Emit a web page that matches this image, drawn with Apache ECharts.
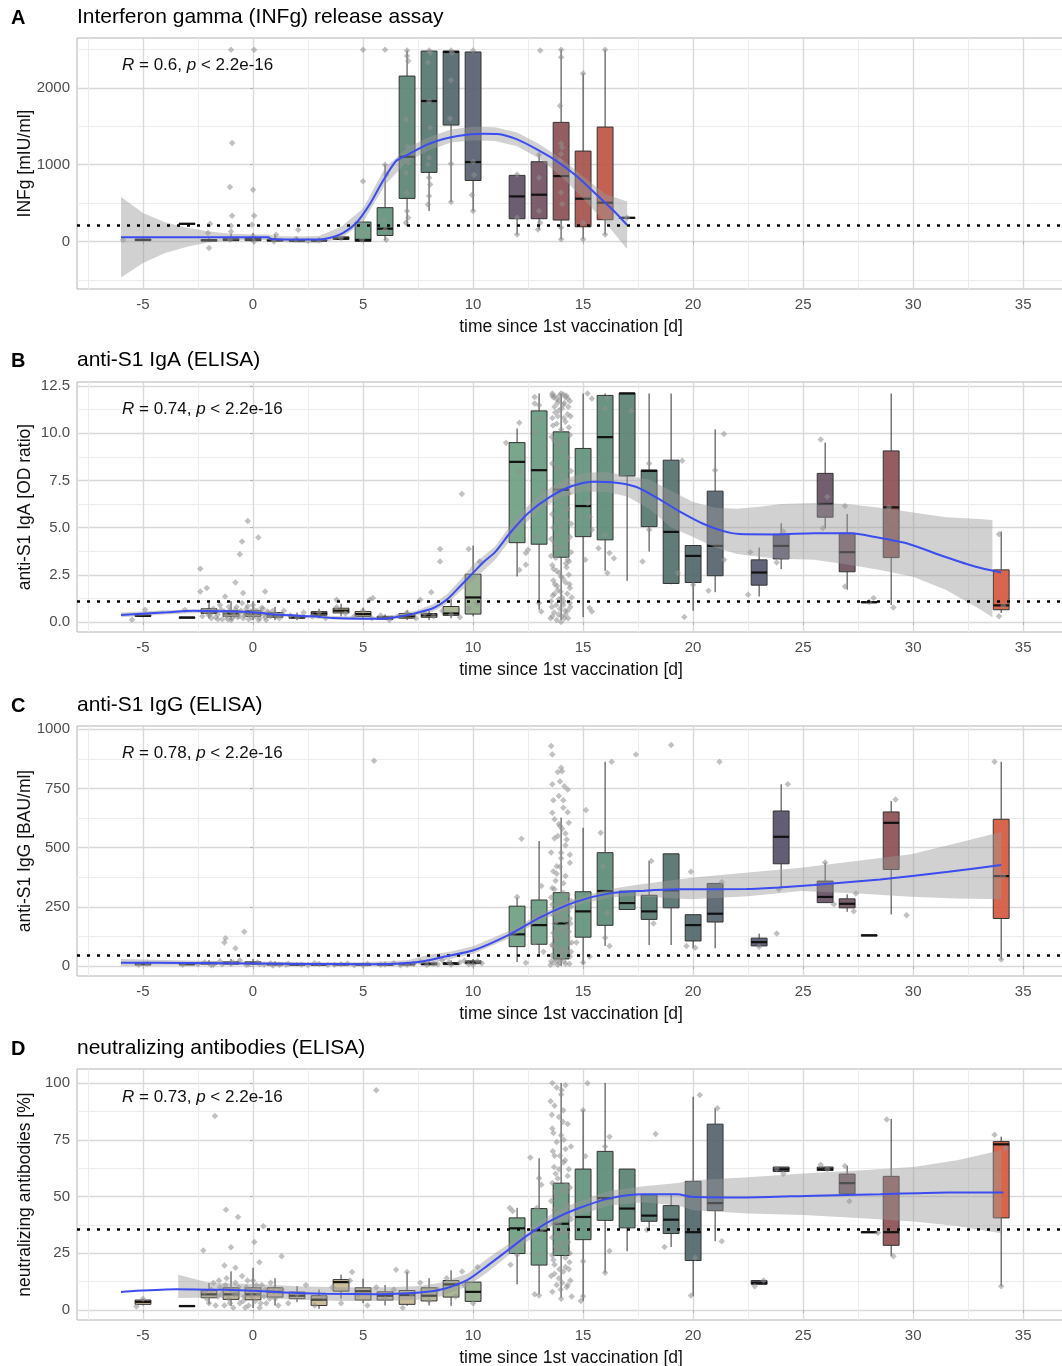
<!DOCTYPE html>
<html lang="en">
<head>
<meta charset="UTF-8">
<title>Immune response after vaccination</title>
<script src="https://cdn.jsdelivr.net/npm/echarts@6/dist/echarts.min.js"></script>
<style>
    * { margin: 0; padding: 0; }
    html, body { width: 100%; height: 100%; overflow: hidden; background: #fff; }
    .container { width: 1062px; height: 1366px; }
</style>
</head>
<body>
<div class="container"></div>
<script>
// ---- texts ----
const letters = ['A', 'B', 'C', 'D'];
const titles = ['Interferon gamma (INFg) release assay', 'anti-S1 IgA (ELISA)', 'anti-S1 IgG (ELISA)', 'neutralizing antibodies (ELISA)'];
const yNames = ['INFg [mIU/ml]', 'anti-S1 IgA [OD ratio]', 'anti-S1 IgG [BAU/ml]', 'neutralizing antibodies [%]'];
const rValues = ['0.6', '0.74', '0.78', '0.73'];
const xName = 'time since 1st vaccination [d]';

// ---- ticks ----
const xTicks = [-7.5, -5, -2.5, 0, 2.5, 5, 7.5, 10, 12.5, 15, 17.5, 20, 22.5, 25, 27.5, 30, 32.5, 35];
const xMajor = [-5, 0, 5, 10, 15, 20, 25, 30, 35];
const yTicksA = [-500, 0, 500, 1000, 1500, 2000, 2500];
const yMajorA = [0, 1000, 2000];
const yTicksB = [0, 1.25, 2.5, 3.75, 5, 6.25, 7.5, 8.75, 10, 11.25, 12.5];
const yMajorB = [0, 2.5, 5, 7.5, 10, 12.5];
const yTicksC = [0, 125, 250, 375, 500, 625, 750, 875, 1000];
const yMajorC = [0, 250, 500, 750, 1000];
const yTicksD = [0, 12.5, 25, 37.5, 50, 62.5, 75, 87.5, 100];
const yMajorD = [0, 25, 50, 75, 100];

// ---- cut-off lines ----
const cutoffs = [210, 1.1, 44, 35.5];

// ---- boxes: [day, min, q1, median, q3, max] ----
const boxesA = [
    [-5, 0, 10, 20, 30, 40], [-3, 220, 225, 230, 235, 240], [-2, 0, 5, 15, 25, 60],
    [-1, 0, 10, 20, 40, 100], [0, 0, 10, 30, 50, 110], [1, 0, 5, 15, 30, 90],
    [2, 0, 5, 10, 25, 60], [3, 0, 5, 10, 20, 40], [4, 20, 25, 40, 60, 60],
    [5, 0, 0, 20, 253, 253], [6, 13, 78, 166, 440, 1004], [7, 200, 561, 1104, 2156, 2490],
    [8, 396, 900, 1830, 2482, 2490], [9, 513, 1517, 2470, 2482, 2490], [10, 396, 795, 1035, 2470, 2480],
    [12, 91, 296, 587, 861, 870], [13, 157, 296, 609, 1039, 1134], [14, 26, 279, 852, 1552, 2504],
    [15, 30, 191, 557, 1178, 2190], [16, 91, 283, 505, 1491, 2500], [17, 300, 305, 309, 312, 315]
];
const boxesB = [
    [-5, 0.25, 0.3, 0.33, 0.37, 0.4], [-3, 0.22, 0.23, 0.24, 0.25, 0.26], [-2, 0.2, 0.45, 0.55, 0.7, 1.0],
    [-1, 0.1, 0.3, 0.45, 0.6, 1.1], [0, 0.1, 0.3, 0.45, 0.6, 1.1], [1, 0.1, 0.25, 0.35, 0.5, 0.8],
    [2, 0.1, 0.2, 0.25, 0.35, 0.5], [3, 0.2, 0.35, 0.45, 0.55, 0.7], [4, 0.3, 0.48, 0.6, 0.73, 0.97],
    [5, 0.15, 0.3, 0.42, 0.55, 0.75], [6, 0.1, 0.15, 0.2, 0.3, 0.4], [7, 0.1, 0.2, 0.3, 0.45, 0.6],
    [8, 0.1, 0.25, 0.35, 0.45, 0.6], [9, 0.2, 0.35, 0.45, 0.82, 1.2], [10, 0.3, 0.42, 1.3, 2.53, 4.05],
    [12, 2.41, 4.2, 8.48, 9.5, 10.25], [13, 0.65, 4.12, 8.04, 11.18, 12.1], [14, 0.1, 3.43, 7.0, 10.07, 12.1],
    [15, 0.26, 4.52, 6.14, 9.19, 12.1], [16, 2.71, 4.35, 9.79, 12.0, 12.1], [17, 2.18, 7.73, 12.1, 12.13, 12.13],
    [18, 3.73, 5.05, 8.0, 8.05, 12.1], [19, 2.0, 2.04, 4.77, 8.57, 12.1], [20, 0.6, 2.09, 3.5, 4.05, 4.05],
    [21, 1.58, 2.45, 4.03, 6.93, 10.2], [23, 1.35, 1.95, 2.62, 3.29, 3.94], [24, 2.8, 3.34, 4.03, 4.65, 5.23],
    [26, 4.97, 5.55, 6.25, 7.87, 9.5], [27, 1.71, 2.66, 3.7, 4.7, 5.72], [28, 1.0, 1.03, 1.05, 1.07, 1.1],
    [29, 0.9, 3.41, 6.07, 9.06, 12.1], [34, 0.48, 0.65, 0.88, 2.76, 4.79]
];
const boxesC = [
    [-5, 5, 6, 8, 10, 12], [-3, 5, 6, 8, 10, 12], [-2, 3, 8, 12, 16, 25], [-1, 3, 8, 12, 18, 30],
    [0, 3, 8, 12, 18, 30], [1, 2, 5, 8, 12, 20], [2, 2, 4, 7, 10, 15], [3, 2, 4, 6, 9, 14],
    [4, 2, 4, 7, 10, 15], [5, 2, 4, 6, 9, 14], [6, 2, 4, 7, 10, 16], [7, 2, 5, 8, 12, 18],
    [8, 2, 5, 9, 13, 20], [9, 3, 6, 10, 15, 24], [10, 5, 10, 15, 22, 30],
    [12, 17, 82, 134, 253, 289], [13, 42, 92, 173, 279, 528], [14, 0, 30, 180, 310, 627],
    [15, 7, 122, 231, 314, 584], [16, 85, 172, 317, 479, 863], [17, 239, 239, 266, 317, 317],
    [18, 89, 197, 231, 299, 444], [19, 89, 246, 320, 474, 474], [20, 75, 106, 173, 217, 217],
    [21, 75, 186, 221, 349, 349], [23, 80, 85, 101, 118, 137], [24, 331, 432, 546, 655, 768],
    [26, 268, 268, 292, 359, 437], [27, 229, 246, 263, 284, 303], [28, 128, 129, 130, 131, 132],
    [29, 218, 408, 605, 651, 697], [34, 28, 201, 380, 620, 863]
];
const boxesD = [
    [-5, 2.0, 2.5, 3.6, 4.4, 5], [-3, 1.5, 1.6, 1.76, 1.9, 2.0], [-2, 2.5, 5.4, 6.9, 8.6, 12],
    [-1, 1.8, 4.7, 6.9, 9.8, 17], [0, 0.9, 4.5, 6.9, 9.8, 18.6], [1, 2, 5.7, 8.0, 9.8, 14],
    [2, 3.5, 5, 6.3, 7.9, 10.5], [3, 0.5, 2, 4.6, 6.3, 9], [4, 5, 8.3, 12.3, 13.4, 15.6],
    [5, 3, 4.4, 8.3, 9.8, 13.8], [6, 2, 4.4, 6.3, 8, 11], [7, 1.8, 2.5, 6.6, 8.6, 16.8],
    [8, 2, 4, 6.3, 9.8, 14], [9, 1.8, 5.7, 11.3, 13, 17.5], [10, 3.8, 3.8, 8.0, 12.3, 12.3],
    [12, 11.3, 24.9, 36.0, 40.6, 45], [13, 6.9, 19.8, 35, 44.7, 66.9], [14, 5.4, 24, 38, 55.9, 100],
    [15, 4, 31, 41, 62.1, 88], [16, 16.4, 39.5, 49.3, 69.9, 100], [17, 25.9, 36.2, 44.7, 62.1, 62.1],
    [18, 35, 39.1, 41.6, 50.8, 50.8], [19, 27.8, 33.7, 39.8, 46, 50.8], [20, 6.1, 21.8, 34.3, 56.7, 94],
    [21, 30.3, 43.8, 47.1, 81.9, 88.9], [23, 11, 11.3, 12, 13, 13.2], [24, 61, 61, 62, 63, 63],
    [26, 61.5, 61.5, 62, 63, 63], [27, 51.2, 51.2, 55.9, 59.9, 63.5], [28, 34, 34.1, 34.3, 34.5, 34.6],
    [29, 23.7, 28.5, 34.3, 58.9, 84.2], [34, 10.5, 40.6, 73, 74.2, 76.4]
];

// ---- single measurements [day, value] ----
const pointsA = [
    [-5.9, 20], [-1.0, 2500], [0.05, 2500], [-0.95, 1283], [-1.05, 709], [-0.95, 335], [0.0, 674], [0.05, 335],
    [-0.05, 217], [-1.0, 206], [-1.95, 231], [-2.0, -87], [-2.05, 110], [-1.0, 130], [-1.05, 22], [0.0, 65],
    [0.05, 0], [1.05, 87], [0.95, 0], [2.05, 152], [1.95, 31], [3.0, 20], [2.5, 10],
    [5.0, 2500], [6.0, 2500], [5.0, 783], [6.0, 1000], [6.05, 870], [5.95, 283], [6.0, 152], [6.05, 22],
    [5.0, 113], [4.95, 22], [4.0, 44],
    [7, 2490], [7, 2417], [7.05, 2352], [6.95, 1591], [7, 1244], [7.05, 1026], [6.95, 896], [7, 635], [7, 396],
    [7.05, 309], [6.95, 244],
    [8, 2490], [8.05, 2460], [7.95, 2331], [8, 1829], [8.05, 1482], [8, 1091], [7.95, 1004], [8, 830],
    [8.05, 743], [8, 591], [7.95, 482],
    [9, 2490], [9.05, 2460], [9, 2100], [8.95, 1604], [9, 1013], [9, 513],
    [10, 2490], [10, 1040], [10.05, 865], [9.95, 604], [10, 396],
    [12, 874], [12, 309], [12, 91],
    [13.05, 2490], [13, 1134], [13, 830], [13, 396], [13.05, 244], [12.95, 157],
    [14, 2500], [14, 2400], [13.95, 1770], [14, 1278], [14.05, 1226], [14, 1139], [13.95, 1052], [14, 639],
    [14.05, 487], [14, 183], [14, 30],
    [15, 2190], [15, 244], [15, 30], [16, 2500], [16, 91], [17, 309]
];
const pointsB = [
    [-5.5, 0.12], [-4.9, 0.65], [-3.1, 0.65], [-2.4, 2.82], [-2.4, 1.62], [-2.1, 1.8], [-0.8, 2.09], [-0.6, 3.59],
    [-0.5, 4.26], [-0.24, 5.35], [0.24, 4.47], [-0.45, 1.53], [0.55, 1.62], [-1.27, 1.35],
    [-2.3, 0.3], [-2.1, 0.5], [-1.9, 0.2], [-1.8, 0.7], [-1.6, 0.4], [-1.5, 0.9], [-1.4, 0.15], [-1.3, 0.55],
    [-1.2, 0.3], [-1.1, 0.8], [-1.0, 0.1], [-0.9, 0.45], [-0.8, 0.65], [-0.7, 0.25], [-0.6, 0.5], [-0.5, 1.0],
    [-0.4, 0.35], [-0.3, 0.7], [-0.2, 0.15], [-0.1, 0.55], [0.0, 0.9], [0.1, 0.3], [0.2, 0.6], [0.3, 0.2],
    [0.4, 0.75], [0.5, 0.4], [0.6, 0.1], [0.7, 0.5], [0.8, 0.3], [1.0, 0.45], [1.2, 0.2], [1.4, 0.6],
    [1.7, 0.35], [2.0, 0.25], [2.3, 0.5], [2.7, 0.3], [3.0, 0.5], [3.3, 0.2], [3.8, 0.8], [4.2, 0.45],
    [4.6, 0.3], [5.0, 0.6], [5.4, 0.2], [5.8, 0.35], [6.2, 0.1], [6.6, 0.3], [7.0, 0.5], [7.4, 0.2],
    [7.8, 0.45], [8.2, 0.3], [8.6, 0.6], [9.0, 0.4], [9.4, 0.25], [9.8, 0.7],
    [-1.9, 0.45], [-1.7, 0.25], [-1.45, 0.65], [-1.25, 0.4], [-1.05, 0.6], [-0.95, 0.2], [-0.85, 0.35], [-0.75, 0.8],
    [-0.65, 0.3], [-0.55, 0.6], [-0.45, 0.2], [-0.35, 0.45], [-0.25, 0.85], [-0.15, 0.4], [-0.05, 0.25], [0.05, 0.65],
    [0.15, 0.45], [0.25, 0.1], [0.35, 0.5], [0.45, 0.7], [0.55, 0.25], [0.65, 0.55], [0.75, 0.35], [0.9, 0.6],
    [1.1, 0.3], [1.3, 0.4], [-2.2, 0.6], [-2.0, 0.35], [-1.6, 0.15], [-1.15, 0.15],
    [3.8, 1.18], [5.3, 1.18], [5.45, 1.27], [7.6, 1.18], [8.1, 1.58], [8.5, 3.86], [8.5, 3.2], [9.49, 6.78],
    [9.8, 3.86], [10.2, 1.0], [10.3, 3.2],
    [12.1, 10.55], [12.1, 7.96], [11.5, 9.49], [12.1, 2.76], [12.4, 3.03], [12.4, 3.65], [12.5, 3.82],
    [12.8, 11.92], [12.8, 11.57], [13.0, 11.48], [12.8, 10.07], [13.0, 10.78], [13.0, 1.0], [13.1, 0.56],
    [12.9, 4.52], [13.2, 6.99],
    [13.6, 12.0], [13.8, 11.8], [14.0, 12.1], [14.2, 11.9], [14.4, 11.7], [13.7, 11.4], [13.9, 11.2], [14.1, 11.5],
    [14.3, 11.0], [13.6, 10.8], [13.8, 10.5], [14.0, 10.2], [14.2, 10.6], [14.4, 9.9], [13.7, 9.6], [13.9, 9.3],
    [14.1, 9.0], [14.3, 8.7], [13.6, 8.4], [13.8, 8.1], [14.0, 7.8], [14.2, 7.5], [14.4, 7.2], [13.7, 6.9],
    [13.9, 6.6], [14.1, 6.3], [14.3, 6.0], [13.6, 5.7], [13.8, 5.4], [14.0, 5.1], [14.2, 4.8], [14.4, 4.5],
    [13.7, 4.2], [13.9, 3.9], [14.1, 3.6], [14.3, 3.3], [13.6, 3.0], [13.8, 2.7], [14.0, 2.4], [14.2, 2.1],
    [14.4, 1.8], [13.7, 1.5], [13.9, 1.2], [14.1, 0.9], [14.3, 0.6], [13.6, 0.3], [13.8, 0.1], [14.0, 0.0],
    [14.2, 0.4], [14.4, 1.0], [13.65, 2.2], [13.85, 1.7], [14.05, 1.3], [14.25, 2.9], [13.75, 3.4], [14.15, 0.2],
    [13.95, 0.7], [14.35, 2.5], [13.55, 1.1], [14.45, 3.7], [13.65, 11.9], [14.15, 11.6], [13.85, 10.9], [14.35, 10.3],
    [13.52, 0.2], [13.58, 0.8], [13.62, 1.4], [13.68, 0.5], [13.72, 2.0], [13.78, 0.9], [13.82, 1.9], [13.88, 0.4],
    [13.92, 2.6], [13.98, 1.6], [14.02, 0.3], [14.08, 2.3], [14.12, 1.1], [14.18, 0.6], [14.22, 3.1], [14.28, 1.5],
    [14.32, 0.2], [14.38, 2.0], [14.42, 0.8], [14.48, 1.3], [13.55, 4.4], [13.65, 5.0], [13.75, 6.1], [13.85, 7.0],
    [13.95, 8.2], [14.05, 9.5], [14.15, 7.3], [14.25, 5.4], [14.35, 6.8], [14.45, 8.0], [13.57, 9.8], [13.63, 10.4],
    [13.73, 11.1], [13.83, 11.6], [13.93, 12.0], [14.03, 11.3], [14.13, 10.8], [14.23, 12.0], [14.33, 11.4],
    [14.43, 10.9], [13.6, 12.1], [13.7, 11.95], [13.9, 11.75], [14.1, 12.05], [14.3, 11.85], [13.54, 3.5],
    [13.66, 2.8], [13.74, 3.9], [13.86, 4.6], [13.96, 5.6], [14.06, 4.0], [14.16, 5.9], [14.26, 4.3], [14.36, 3.2],
    [14.46, 5.2],
    [15.2, 12.1], [15.4, 11.83], [15.3, 5.58], [15.4, 4.88], [15.3, 0.74], [15.4, 0.56], [15.1, 3.29], [15.2, 6.29],
    [16.1, 11.83], [16.0, 11.3], [16.0, 4.61], [16.2, 3.65], [16.4, 3.38], [16.1, 2.59], [15.7, 3.91],
    [17.2, 11.18], [18.0, 8.4], [18.0, 4.88], [17.7, 3.2], [19.3, 2.59], [19.5, 8.54], [19.6, 0.26], [20.0, 1.97],
    [21.0, 8.04], [21.4, 9.95], [20.7, 1.65], [21.4, 3.29], [22.6, 3.7], [22.5, 1.44], [23.8, 3.15], [24.1, 4.79],
    [25.8, 9.67], [26.1, 6.63], [25.9, 4.96], [26.9, 6.14], [26.9, 1.88], [28.2, 1.27], [28.0, 1.06],
    [29.1, 0.77], [28.9, 6.07], [33.9, 4.65], [33.9, 0.3], [34.1, 0.88]
];
const pointsC = [
    [-5.2, 5], [-4.8, 10], [-3.2, 6], [-2.5, 8], [-2.2, 15], [-1.8, 5], [-1.5, 20], [-1.25, 117], [-1.3, 100],
    [-0.4, 145], [-0.8, 75], [-1.0, 10], [-0.6, 25], [-0.2, 8], [0.2, 15], [0.5, 5], [0.8, 12], [1.2, 4],
    [1.6, 10], [2.2, 6], [2.8, 12], [3.4, 4], [4.0, 8], [4.6, 3], [5.5, 867], [5.2, 10], [5.8, 6], [6.4, 12],
    [7.0, 5], [7.6, 18], [8.2, 10], [8.6, 25], [9.0, 5], [9.4, 15], [9.8, 8], [10.2, 20], [10.4, 12],
    [-1.9, 3], [-1.4, 8], [-0.9, 15], [-0.3, 4], [0.3, 9], [0.9, 2], [1.5, 6], [2.5, 3], [3.0, 9], [3.7, 5],
    [4.3, 11], [5.0, 2], [6.0, 7], [6.7, 3], [7.3, 10], [7.9, 4], [8.4, 8], [8.9, 16], [9.6, 22], [10.0, 6],
    [12.2, 538], [12.0, 292], [12.4, 14], [13.55, 929], [13.6, 894], [13.1, 338], [12.9, 211], [12.8, 100], [13.2, 60],
    [14.0, 838], [14.05, 823], [13.6, 768], [13.9, 718], [14.1, 669], [13.95, 592], [13.85, 549], [14.0, 479],
    [13.8, 422], [14.2, 380], [13.7, 324], [13.95, 282], [13.85, 225], [14.25, 169], [13.8, 113], [14.0, 56],
    [13.9, 14], [14.3, 746], [14.35, 605], [14.25, 535], [13.6, 648], [14.4, 436], [13.55, 480], [13.65, 400],
    [14.1, 350], [14.3, 300], [13.6, 260], [14.15, 240], [14.4, 200], [13.7, 180], [14.0, 150], [14.3, 120],
    [13.6, 90], [14.1, 70], [14.4, 40], [13.75, 30], [14.2, 10], [13.55, 20], [14.45, 60], [13.85, 5],
    [14.05, 35], [13.65, 140], [14.35, 95], [13.9, 260], [14.1, 310], [13.75, 360], [14.45, 250], [13.95, 420],
    [14.2, 560], [13.7, 620],
    [13.52, 5], [13.58, 45], [13.62, 85], [13.68, 15], [13.72, 125], [13.78, 60], [13.82, 190], [13.88, 25],
    [13.92, 110], [13.98, 210], [14.02, 75], [14.08, 160], [14.12, 20], [14.18, 130], [14.22, 270], [14.28, 50],
    [14.32, 230], [14.38, 10], [14.42, 180], [14.48, 100], [13.55, 290], [13.65, 215], [13.75, 80], [13.85, 155],
    [13.95, 40], [14.05, 250], [14.15, 195], [14.25, 65], [14.35, 145], [14.45, 275], [13.6, 330], [13.8, 390],
    [14.0, 455], [14.2, 510], [14.4, 470], [13.7, 540], [13.9, 600], [14.1, 700], [14.3, 650], [13.95, 780],
    [14.15, 760], [13.85, 820], [13.65, 700], [14.05, 580],
    [15.13, 659], [14.7, 100], [15.3, 40], [15.0, 15], [15.8, 563], [16.3, 863], [15.9, 422], [16.1, 225],
    [16.2, 85], [16.0, 120], [17.4, 894], [18.1, 444], [18.2, 180], [19.0, 934], [19.9, 398], [19.7, 85],
    [20.1, 77], [21.2, 863], [21.3, 355], [23.0, 82], [23.8, 138], [24.3, 768], [23.9, 324], [26.0, 437],
    [26.4, 261], [27.4, 307], [27.3, 232], [29.2, 704], [29.7, 215], [33.7, 863], [34.1, 380], [34.0, 28]
];
const pointsD = [
    [-1.73, 85.5], [5.6, 96.8], [-1.23, 44.2], [-0.68, 41], [0.47, 36.9], [0.06, 30], [-2.26, 26.2], [-1.0, 27.7],
    [1.3, 23.7], [0.29, 21.1], [-1.3, 19.6], [-0.8, 18.6], [4.5, 16.7], [6.5, 17.7], [7.0, 16.7], [9.5, 17],
    [10.2, 18.9], [-5.3, 1.5], [-5.0, 5],
    [-2.2, 8], [-2.0, 3], [-1.8, 12], [-1.6, 6], [-1.5, 10], [-1.3, 2], [-1.2, 14], [-1.1, 5], [-1.0, 9],
    [-0.9, 1], [-0.8, 12], [-0.7, 7], [-0.6, 3], [-0.5, 15], [-0.4, 6], [-0.3, 10], [-0.2, 2], [-0.1, 8],
    [0.0, 13], [0.1, 4], [0.2, 9], [0.3, 1], [0.4, 11], [0.5, 6], [0.6, 3], [0.7, 8], [0.8, 12], [1.0, 5],
    [1.3, 9], [1.6, 3], [2.0, 7], [2.4, 11], [2.8, 2], [3.2, 6], [3.6, 10], [4.0, 3], [4.4, 13], [4.8, 7],
    [5.2, 2], [5.6, 10], [6.0, 5], [6.4, 9], [6.8, 1], [7.2, 7], [7.6, 12], [8.0, 4], [8.4, 9], [8.8, 14],
    [9.2, 6], [9.6, 11], [10.0, 3],
    [-2.1, 5], [-1.9, 9], [-1.7, 2], [-1.45, 7], [-1.25, 11], [-1.05, 3], [-0.85, 7], [-0.65, 10], [-0.45, 4],
    [-0.25, 13], [-0.05, 6], [0.15, 11], [0.35, 3], [0.55, 9], [0.75, 5], [0.95, 8], [1.15, 2], [-1.55, 13],
    [-0.35, 1], [0.25, 7],
    [11.67, 45], [11.8, 43.6], [11.7, 20], [12.0, 24.4], [12.6, 67.2], [13.1, 55.2], [13.0, 58.1], [12.9, 45],
    [13.0, 24.4], [13.0, 6.4], [12.8, 7],
    [13.6, 100], [13.8, 98], [14.0, 95], [14.2, 99], [13.7, 90], [14.1, 88], [13.9, 85], [14.3, 82], [13.6, 80],
    [14.0, 77], [13.8, 74], [14.2, 71], [13.7, 68], [14.1, 65], [13.9, 62], [14.3, 59], [13.6, 56], [14.0, 53],
    [13.8, 50], [14.2, 47], [13.7, 44], [14.1, 41], [13.9, 38], [14.3, 35], [13.6, 32], [14.0, 29], [13.8, 26],
    [14.2, 23], [13.7, 20], [14.1, 17], [13.9, 14], [14.3, 11], [13.6, 8], [14.0, 5], [14.4, 25], [13.55, 15],
    [14.45, 40], [13.75, 60], [14.25, 10], [13.95, 30], [14.35, 18], [13.65, 22], [14.05, 12], [13.85, 36],
    [13.52, 92], [13.58, 86], [13.62, 70], [13.68, 63], [13.72, 52], [13.78, 45], [13.82, 33], [13.88, 27],
    [13.92, 18], [13.98, 9], [14.02, 97], [14.08, 83], [14.12, 75], [14.18, 66], [14.22, 55], [14.28, 42],
    [14.32, 30], [14.38, 21], [14.42, 13], [14.48, 6], [13.55, 48], [13.65, 38], [13.75, 28], [13.85, 58],
    [13.95, 68], [14.05, 44], [14.15, 34], [14.25, 52], [14.35, 62], [14.45, 72], [13.6, 24], [13.7, 16],
    [13.8, 11], [13.9, 40], [14.0, 35], [14.1, 26], [14.2, 19], [14.3, 46], [14.4, 54], [13.65, 78],
    [15.2, 99.9], [15.0, 88], [15.1, 67.7], [15.0, 21.5], [15.0, 6.1], [14.9, 4], [16.2, 76.4], [16.0, 72],
    [16.0, 16.4], [16.2, 26], [15.8, 48], [18.3, 77.6], [17.9, 35.4], [18.7, 27.8], [20.3, 94.7], [19.9, 6.4],
    [20.1, 23], [21.1, 88.9], [21.3, 30.3], [22.8, 10.5], [23.2, 13], [23.8, 62.3], [24.1, 60], [25.8, 64],
    [26.1, 62], [26.9, 63.5], [27.1, 47.9], [28.4, 34], [28.8, 84], [29.1, 23.7], [33.7, 77.2], [34.0, 10.5],
    [34.2, 71.3]
];

// ---- smooth fit [day, value] and band [day, lower, upper] ----
const fitA = [
    [-6, 55], [-5, 55], [-4, 55], [-3, 55], [-2, 55], [-1, 55], [0, 55], [0.7, 55], [0.8, 35], [1, 30], [2, 25],
    [3, 25], [3.5, 48], [4.1, 113], [4.7, 244], [5.3, 483], [5.9, 788], [6.5, 1048], [7, 1126], [8, 1274],
    [9.3, 1374], [10.5, 1404], [11.1, 1400], [12, 1330], [12.9, 1200], [13.8, 1048], [14.7, 853], [15.6, 613],
    [16.4, 396], [17, 214]
];
const bandA = [
    [-6, -470, 580], [-5, -280, 370], [-4, -150, 250], [-3, -70, 180], [-2, -10, 130], [-1, 10, 100],
    [0, 20, 95], [0.7, 20, 90], [1, 0, 70], [2, -20, 65], [3, -25, 70], [4, 40, 190], [5, 250, 430],
    [6, 740, 960], [7, 1040, 1220], [8, 1190, 1360], [9, 1290, 1460], [10, 1320, 1495], [11, 1310, 1490],
    [12, 1240, 1420], [13, 1080, 1270], [14, 850, 1080], [15, 560, 850], [16, 250, 620], [17, -100, 520]
];
const fitB = [
    [-6, 0.37], [-3.9, 0.51], [-2.7, 0.6], [-1.5, 0.57], [0, 0.51], [1.2, 0.38], [2.7, 0.3], [3.6, 0.21],
    [5, 0.17], [6.1, 0.19], [6.7, 0.3], [7.4, 0.47], [8.2, 0.74], [8.8, 1.18], [9.4, 1.88], [10, 2.6],
    [10.5, 3.2], [11, 3.7], [11.67, 4.7], [12.5, 5.76], [13.5, 6.63], [14.5, 7.2], [15.5, 7.43], [16.5, 7.38],
    [17.4, 7.16], [18.4, 6.55], [19.4, 5.84], [20.4, 5.23], [21.3, 4.84], [22.1, 4.66], [23.8, 4.64],
    [25.5, 4.7], [27.2, 4.7], [28.2, 4.52], [29.7, 4.17], [31.4, 3.47], [32.8, 2.94], [34, 2.62]
];
const bandB = [
    [-6, 0.25, 0.5], [-4, 0.4, 0.62], [-2, 0.5, 0.68], [0, 0.44, 0.58], [2, 0.24, 0.4], [4, 0.12, 0.3],
    [6, 0.1, 0.28], [7.4, 0.35, 0.6], [8.2, 0.55, 0.95], [8.8, 0.95, 1.45], [9.4, 1.6, 2.2], [10, 2.2, 3.05],
    [11, 3.3, 4.0], [12, 4.8, 5.6], [13, 5.9, 6.7], [14, 6.6, 7.5], [15, 6.9, 7.9], [16, 6.9, 7.95],
    [17, 6.65, 7.75], [18, 6.0, 7.55], [19, 5.0, 6.95], [20, 4.5, 6.35], [21, 3.95, 6.05], [22, 3.6, 6.0],
    [23, 3.45, 6.1], [24, 3.35, 6.25], [25.5, 3.3, 6.3], [27, 3.05, 6.25], [28.5, 2.75, 6.05], [30, 2.4, 5.8],
    [31.5, 1.7, 5.55], [33, 0.7, 5.45], [33.6, 0.25, 5.4]
];
const fitC = [
    [-6, 14], [-3, 13], [0, 11], [2.5, 9], [5, 8], [6.5, 10], [7.6, 18], [8.67, 39], [10.05, 68], [11.6, 131],
    [13.1, 208], [14.7, 272], [16.2, 307], [17.8, 318], [19.3, 324], [22.4, 325], [23.9, 332], [25.5, 342],
    [28.5, 366], [31.6, 398], [34, 427]
];
const bandC = [
    [-6, 0, 30], [-3, 3, 23], [0, 3, 19], [3, 1, 16], [5, 0, 16], [7, 3, 25], [8, 12, 48], [9, 30, 62],
    [10, 52, 84], [11.6, 115, 147], [13.1, 193, 223], [14.7, 257, 287], [16.2, 290, 324], [17.3, 296, 341],
    [19.9, 282, 373], [22.5, 295, 395], [24.9, 317, 415], [27.5, 307, 445], [29.9, 293, 472], [32, 285, 520],
    [34, 282, 566]
];
const fitD = [
    [-6, 7.9], [-5.3, 8.5], [-3.5, 9.2], [-1.3, 8.9], [0, 8.5], [1.4, 7.7], [3.3, 7.2], [5.7, 7.0], [7.3, 7.5],
    [8.5, 8.9], [9.75, 13.3], [10.7, 19.9], [11.6, 26.5], [12.5, 33.1], [13.6, 39.7], [14.7, 44.5], [16.2, 49.2],
    [17.75, 51], [19.3, 51], [19.9, 49.9], [22.4, 49.6], [25.5, 50.4], [28.5, 51], [31.6, 51.8], [34.1, 51.8]
];
const bandD = [
    [-3.4, 5.3, 15.5], [-2, 5.5, 12], [0, 5.5, 11.5], [2, 4.5, 10.5], [4, 4, 10], [6, 4, 10], [7.5, 4.5, 10.5],
    [8.5, 6, 12], [9.75, 10.5, 16], [10.7, 17, 23], [11.6, 24, 29], [12.5, 30.5, 35.5], [13.6, 37, 42.5],
    [14.7, 41.5, 47.5], [16.2, 46, 52.5], [17.75, 47.5, 54.5], [19.3, 46, 56], [20, 44, 57.2], [22.5, 42.5, 58.5],
    [25, 41.9, 60.2], [27.5, 40.5, 61.5], [30, 39, 63], [32, 37, 66], [34, 33.8, 70.4]
];

// ---- layout ----
const FONT = "'Liberation Sans', Arial, sans-serif";
const panels = [
    {top: 38, height: 251, ymin: -620, ymax: 2652, ticks: yTicksA, major: yMajorA, fmt: v => String(v),
     boxes: boxesA, points: pointsA, fit: fitA, band: bandA, days: [-6, 17], titleY: 19, rY: 66},
    {top: 382, height: 250, ymin: -0.53, ymax: 12.71, ticks: yTicksB, major: yMajorB, fmt: v => v.toFixed(1),
     boxes: boxesB, points: pointsB, fit: fitB, band: bandB, days: [-6, 34], titleY: 362, rY: 410},
    {top: 726, height: 250, ymin: -42, ymax: 1014, ticks: yTicksC, major: yMajorC, fmt: v => String(v),
     boxes: boxesC, points: pointsC, fit: fitC, band: bandC, days: [-6, 34], titleY: 707, rY: 754},
    {top: 1069, height: 251, ymin: -4.4, ymax: 106.2, ticks: yTicksD, major: yMajorD, fmt: v => String(v),
     boxes: boxesD, points: pointsD, fit: fitD, band: bandD, days: [-6, 34], titleY: 1050, rY: 1098}
];

// colour ramp used for the boxes (by position of the day inside the panel's range)
const ramp = [
    [0, '#c8b48e'], [0.33, '#c4b68f'], [0.38, '#9fae8b'], [0.45, '#6b9c80'], [0.53, '#5c8f77'],
    [0.6, '#52766c'], [0.65, '#4e6468'], [0.7, '#535a6c'], [0.74, '#4f4e68'], [0.78, '#5c4b64'],
    [0.83, '#6f4d5b'], [0.87, '#884b50'], [0.92, '#a84e45'], [1, '#d4553a']
];
function hex(c) { return [1, 3, 5].map(i => parseInt(c.substr(i, 2), 16)); }
function rampColor(f) {
    f = Math.max(0, Math.min(1, f));
    for (let i = 1; i < ramp.length; i++) {
        if (f <= ramp[i][0]) {
            const t = (f - ramp[i - 1][0]) / (ramp[i][0] - ramp[i - 1][0]);
            const a = hex(ramp[i - 1][1]), b = hex(ramp[i][1]);
            const c = a.map((v, k) => Math.round(v + (b[k] - v) * t));
            return 'rgba(' + c.join(',') + ',0.9)';
        }
    }
    return ramp[ramp.length - 1][1];
}

const grid = [], xAxis = [], yAxis = [], series = [], title = [];

panels.forEach((p, i) => {
    grid.push({left: 77, right: -3, top: p.top, height: p.height, show: true, outerBoundsMode: 'none',
        borderColor: '#b3b3b3', borderWidth: 1, backgroundColor: 'transparent'});

    // minor + major lines (first axis), major lines, ticks and labels (second axis)
    xAxis.push({type: 'value', gridIndex: i, position: 'bottom', min: -8, max: 36.9, axisLine: {show: false},
        axisTick: {show: false, customValues: xTicks}, axisLabel: {show: false},
        splitLine: {show: true, lineStyle: {color: '#ececec', width: 1}}});
    xAxis.push({type: 'value', gridIndex: i, position: 'bottom', min: -8, max: 36.9, axisLine: {show: false},
        axisTick: {show: true, length: 3, customValues: xMajor, lineStyle: {color: '#b3b3b3'}},
        axisLabel: {customValues: xMajor, color: '#4d4d4d', fontSize: 15, margin: 8, fontFamily: FONT},
        splitLine: {show: true, lineStyle: {color: '#d9d9d9', width: 1.4}},
        name: xName, nameLocation: 'middle', nameGap: 29, nameMoveOverlap: false,
        nameTextStyle: {color: '#111', fontSize: 17.5, fontFamily: FONT}});
    yAxis.push({type: 'value', gridIndex: i, position: 'left', min: p.ymin, max: p.ymax, axisLine: {show: false},
        axisTick: {show: false, customValues: p.ticks}, axisLabel: {show: false},
        splitLine: {show: true, lineStyle: {color: '#ececec', width: 1}}});
    yAxis.push({type: 'value', gridIndex: i, position: 'left', min: p.ymin, max: p.ymax, axisLine: {show: false},
        axisTick: {show: true, length: 3, customValues: p.major, lineStyle: {color: '#b3b3b3'}},
        axisLabel: {customValues: p.major, formatter: p.fmt, color: '#4d4d4d', fontSize: 15, margin: 7, fontFamily: FONT},
        splitLine: {show: true, lineStyle: {color: '#d9d9d9', width: 1.4}},
        name: yNames[i], nameLocation: 'middle', nameGap: 43, nameMoveOverlap: false,
        nameTextStyle: {color: '#111', fontSize: 17.5, fontFamily: FONT}});

    const xi = 2 * i, yi = 2 * i;
    const d0 = p.days[0], d1 = p.days[1];

    series.push({
        type: 'custom', xAxisIndex: xi, yAxisIndex: yi, z: 2, silent: true,
        data: p.boxes,
        renderItem: function (params, api) {
            const x = api.value(0);
            const half = api.size([0.72, 0])[0] / 2;
            const lo = api.coord([x, api.value(1)]);
            const q1 = api.coord([x, api.value(2)]);
            const md = api.coord([x, api.value(3)]);
            const q3 = api.coord([x, api.value(4)]);
            const hi = api.coord([x, api.value(5)]);
            return {type: 'group', children: [
                {type: 'line', shape: {x1: hi[0], y1: hi[1], x2: q3[0], y2: q3[1]}, style: {stroke: '#333', lineWidth: 1}},
                {type: 'line', shape: {x1: q1[0], y1: q1[1], x2: lo[0], y2: lo[1]}, style: {stroke: '#333', lineWidth: 1}},
                {type: 'rect', shape: {x: q3[0] - half, y: q3[1], width: 2 * half, height: Math.max(q1[1] - q3[1], 1)},
                    style: {fill: rampColor((x - d0) / (d1 - d0)), stroke: '#333', lineWidth: 1}},
                {type: 'line', shape: {x1: md[0] - half, y1: md[1], x2: md[0] + half, y2: md[1]},
                    style: {stroke: '#111', lineWidth: 2.2}}
            ]};
        }
    });

    series.push({
        type: 'scatter', xAxisIndex: xi, yAxisIndex: yi, z: 3, silent: true,
        data: p.points, symbol: 'diamond', symbolSize: 6.5,
        itemStyle: {color: 'rgba(145,145,145,0.7)'}
    });

    const band = p.band;
    series.push({
        type: 'custom', xAxisIndex: xi, yAxisIndex: yi, z: 4, silent: true,
        data: band,
        renderItem: function (params, api) {
            if (params.dataIndex !== 0) return null;
            const pts = [];
            band.forEach(b => pts.push(api.coord([b[0], b[2]])));
            for (let k = band.length - 1; k >= 0; k--) pts.push(api.coord([band[k][0], band[k][1]]));
            return {type: 'polygon', shape: {points: pts}, style: {fill: 'rgba(153,153,153,0.45)'}};
        }
    });

    series.push({
        type: 'line', xAxisIndex: xi, yAxisIndex: yi, z: 5, silent: true,
        data: p.fit, showSymbol: false, smooth: 0.25,
        lineStyle: {color: '#3b4cf0', width: 2},
        markLine: {
            silent: true, symbol: ['none', 'none'], label: {show: false},
            lineStyle: {color: '#000', type: [3, 7], width: 2.6},
            data: [{yAxis: cutoffs[i]}]
        }
    });

    title.push({text: letters[i], left: 11, top: p.titleY - 11, padding: 0,
        textStyle: {fontSize: 20, fontWeight: 'bold', color: '#000', fontFamily: FONT}});
    title.push({text: titles[i], left: 77, top: p.titleY - 12, padding: 0,
        textStyle: {fontSize: 21, fontWeight: 'normal', color: '#000', fontFamily: FONT}});
    title.push({text: '{i|R} = ' + rValues[i] + ', {i|p} < 2.2e-16', left: 122, top: p.rY - 9, padding: 0,
        textStyle: {fontSize: 17, fontWeight: 'normal', color: '#111', fontFamily: FONT,
            rich: {i: {fontStyle: 'italic', fontSize: 17, color: '#111', fontFamily: FONT}}}});
});

const chart = echarts.init(document.querySelector('.container'));
chart.setOption({animation: false, backgroundColor: '#fff', title, grid, xAxis, yAxis, series});
</script>
</body>
</html>
